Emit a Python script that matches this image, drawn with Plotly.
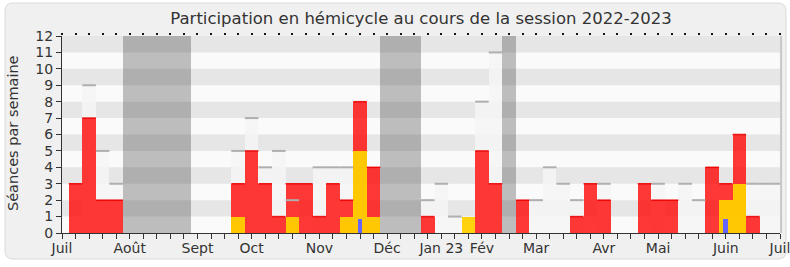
import plotly.graph_objects as go

# ---- data ----
weeks = list(range(53))  # week index, week 0 = Monday 4 July 2022
presence = [3, 7, 2, 2, 0, 0, 0, 0, 0, 0, 0, 0, 3, 5, 3, 1, 3, 3, 1, 3, 2, 8, 4, 0, 0, 0,
            1, 0, 0, 0, 5, 3, 0, 2, 0, 0, 0, 1, 3, 2, 0, 0, 3, 2, 2, 0, 0, 4, 3, 6, 1, 0, 0]
participation = {12: 1, 16: 1, 20: 1, 21: 5, 22: 1, 29: 1, 48: 2, 49: 3}
questions = {21: 0.85, 48: 0.85}
mediane = {1: 9, 2: 5, 3: 3, 12: 5, 13: 7, 14: 4, 15: 5, 16: 2, 18: 4, 19: 4, 20: 4,
           26: 2, 27: 3, 28: 1, 30: 8, 31: 11, 34: 2, 35: 4, 36: 3, 37: 2, 39: 3,
           43: 3, 45: 3, 46: 2, 50: 3, 51: 3, 52: 3}
vacances = [4, 5, 6, 7, 8, 23, 24, 25, 32]
tick_pos = [-1, 4, 9, 13, 18, 23, 27, 30, 34, 39, 43, 48, 52]
tick_txt = ['Juil', 'Août', 'Sept', 'Oct', 'Nov', 'Déc', 'Jan 23', 'Fév', 'Mar',
            'Avr', 'Mai', 'Juin', 'Juil']
YMAX = 12

FONT = 'DejaVu Sans'
TXT = '#333333'

# ---- layout geometry ----
W, H = 790, 267
ML, MR, MT, MB = 62, 10, 36, 34
PW, PH = W - ML - MR, H - MT - MB


def px(x):
    return (x - ML) / PW


def py(y):
    return (H - MB - y) / PH


def segs(d):
    xs, ys = [], []
    for k, v in d.items():
        if v:
            xs += [k - 0.5, k + 0.5, None]
            ys += [v, v, None]
    return xs, ys


fig = go.Figure()

# vacations
fig.add_trace(go.Bar(x=vacances, y=[YMAX] * len(vacances), width=1,
                     marker=dict(color='rgba(50,50,50,0.3)', line=dict(width=0)),
                     hoverinfo='skip'))
# median
mk = list(mediane.keys())
fig.add_trace(go.Bar(x=mk, y=[mediane[k] for k in mk], width=1,
                     marker=dict(color='rgba(244,244,244,0.85)', line=dict(width=0)),
                     hoverinfo='skip'))
mx, my = segs(mediane)
fig.add_trace(go.Scatter(x=mx, y=my, mode='lines', line=dict(color='#AFAFAF', width=2),
                         hoverinfo='skip'))
# presence
fig.add_trace(go.Bar(x=weeks, y=presence, width=1,
                     marker=dict(color='rgba(255,0,0,0.78)', line=dict(width=0)),
                     hoverinfo='skip'))
rx, ry = segs(dict(zip(weeks, presence)))
fig.add_trace(go.Scatter(x=rx, y=ry, mode='lines', line=dict(color='rgba(235,0,0,0.9)', width=1.5),
                         hoverinfo='skip'))
# participation
pk = list(participation.keys())
fig.add_trace(go.Bar(x=pk, y=[participation[k] for k in pk], width=1,
                     marker=dict(color='rgba(255,208,0,0.95)', line=dict(width=0)),
                     hoverinfo='skip'))
# questions
qk = list(questions.keys())
fig.add_trace(go.Bar(x=qk, y=[questions[k] for k in qk], width=0.35,
                     marker=dict(color='#6666FF', line=dict(width=0)),
                     hoverinfo='skip'))
# dummy trace for top axis
fig.add_trace(go.Scatter(x=[-1, 52], y=[0, 0], xaxis='x2', mode='markers',
                         marker=dict(opacity=0), hoverinfo='skip'))

shapes = []
# panel
x0, x1, y0, y1 = px(5), px(786), py(259), py(3)
rxp, ryp = 8 / PW, 8 / PH
path = (f"M {x0+rxp},{y1} L {x1-rxp},{y1} Q {x1},{y1} {x1},{y1-ryp} "
        f"L {x1},{y0+ryp} Q {x1},{y0} {x1-rxp},{y0} L {x0+rxp},{y0} "
        f"Q {x0},{y0} {x0},{y0+ryp} L {x0},{y1-ryp} Q {x0},{y1} {x0+rxp},{y1} Z")
shapes.append(dict(type='path', path=path, xref='paper', yref='paper', layer='below',
                   fillcolor='#F0F0F0', line=dict(color='#DADADA', width=1)))
# plot background + bands
shapes.append(dict(type='rect', xref='x', yref='y', x0=-1, x1=52, y0=0, y1=YMAX,
                   fillcolor='#FAFAFA', line=dict(width=0), layer='below'))
for k in range(1, YMAX, 2):
    shapes.append(dict(type='rect', xref='x', yref='y', x0=-1, x1=52, y0=k, y1=k + 1,
                       fillcolor='#E6E6E6', line=dict(width=0), layer='below'))
# right edge shadow
shapes.append(dict(type='line', xref='paper', yref='paper', x0=1.0015, x1=1.0015, y0=0, y1=1,
                   line=dict(color='#C8C8C8', width=2), layer='above'))

fig.update_layout(
    width=W, height=H,
    margin=dict(l=ML, r=MR, t=MT, b=MB, autoexpand=False),
    paper_bgcolor='white', plot_bgcolor='rgba(0,0,0,0)',
    barmode='overlay', bargap=0, showlegend=False,
    font=dict(family=FONT, size=14, color=TXT),
    title=dict(text='Participation en hémicycle au cours de la session 2022-2023',
               x=0.5, xref='paper', xanchor='center', y=1 - 18 / H, yref='container',
               yanchor='middle', font=dict(family=FONT, size=16.5, color=TXT)),
    xaxis=dict(range=[-1, 52], tickmode='array', tickvals=tick_pos, ticktext=tick_txt,
               ticks='outside', ticklen=5, tickcolor='#333', tickwidth=1,
               ticklabeloverflow='allow', ticklabelstandoff=-3, automargin=False,
               minor=dict(ticks='outside', ticklen=5, tick0=-1, dtick=1, tickcolor='#333',
                          tickwidth=1, showgrid=False),
               showline=True, linecolor='#333', linewidth=1, showgrid=False, zeroline=False,
               tickfont=dict(size=14, color=TXT), fixedrange=True),
    xaxis2=dict(range=[-1, 52], overlaying='x', side='top', anchor='y', tickmode='linear',
                tick0=0, dtick=1, ticks='outside', ticklen=2, tickwidth=2, tickcolor='#111',
                showticklabels=False, showline=False, showgrid=False, zeroline=False,
                automargin=False),
    yaxis=dict(range=[0, YMAX], tickmode='linear', tick0=0, dtick=1, ticks='outside',
               ticklen=5, tickcolor='#333', showline=True, linecolor='#333', linewidth=1,
               showgrid=False, zeroline=False, tickfont=dict(size=14, color=TXT),
               fixedrange=True, automargin=False),
    shapes=shapes,
    annotations=[dict(text='Séances par semaine', textangle=-90, xref='paper', yref='paper',
                      x=px(13), y=py(133), xanchor='center', yanchor='middle',
                      showarrow=False, font=dict(family=FONT, size=14.5, color=TXT))],
)

fig.write_html('out.html')
